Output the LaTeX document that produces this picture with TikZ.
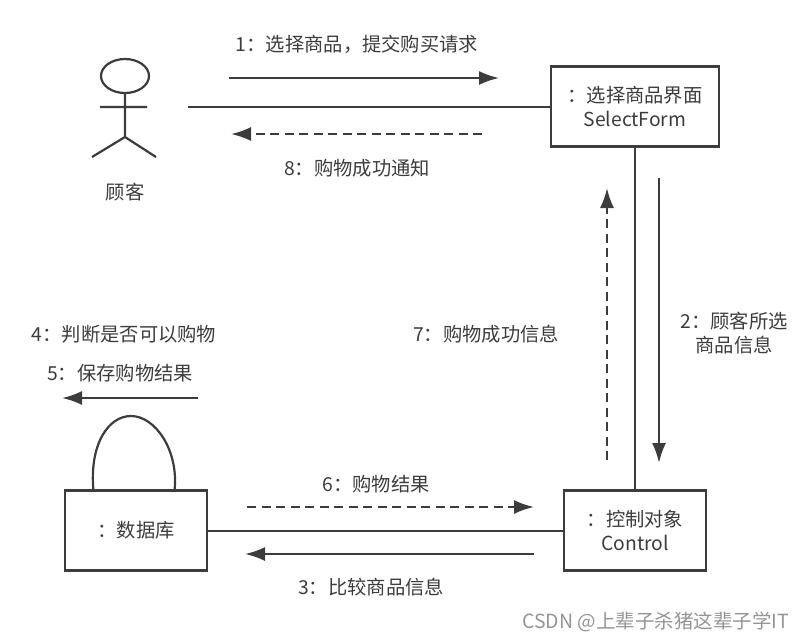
\documentclass[tikz,border=0pt]{standalone}
\usepackage{fontspec}
\setmainfont{Noto Sans CJK SC}[BoldFont={Noto Sans CJK SC}]
\usetikzlibrary{arrows.meta,shapes.geometric}
\definecolor{ink}{HTML}{3C3C3C}
\tikzset{
  px/.style={x=1pt,y=-1pt},
  every node/.style={inner sep=0pt,outer sep=0pt,text=ink,font=\fontsize{19.3}{24}\selectfont},
  obj/.style={draw=ink,line width=2.4pt,align=center,minimum height=80pt},
  lbl/.style={align=center},
  link/.style={draw=ink,line width=2.2pt},
  msg/.style={draw=ink,line width=2.2pt,-{Latex[length=20pt,width=14pt]}},
  ret/.style={msg,dash pattern=on 9pt off 5.5pt},
  wm/.style={text=black!42,font=\fontsize{19.5}{22}\selectfont}
}
\begin{document}
\begin{tikzpicture}[px]
\useasboundingbox (0,0) rectangle (803,641);
% nodes
\node[obj,minimum width=168pt] (form) at (635,106.5) {：选择商品界面\\SelectForm};
\node[obj,minimum width=142pt] (ctrl) at (635,530.5) {：控制对象\\Control};
\node[obj,minimum width=142pt] (db) at (136,530.5) {：数据库};
% actor
\node[draw=ink,line width=2.2pt,ellipse,minimum width=48pt,minimum height=34pt] (head) at (125,76) {};
\coordinate (hip) at (125,137);
\coordinate (armL) at (100,107);
\coordinate (armR) at (147,107);
\coordinate (legL) at (92,157);
\coordinate (legR) at (156,157);
\draw[link] (head.south) -- (hip) (armL) -- (armR) (legL) -- (hip) -- (legR);
\node (actor) at (125,192) {顾客};
% link actor-form
\coordinate (actorEnd) at (188,107);
\draw[link] (actorEnd) -- (form.west |- actorEnd);
% link form-ctrl
\draw[link] (form.south) -- (ctrl.north);
% link db-ctrl
\coordinate (dbc) at (207,531);
\draw[link] (dbc) -- (ctrl.west |- dbc);
% self loop
\coordinate (loopL) at (93.5,491);
\coordinate (loopR) at (174.5,491);
\draw[link] (loopL) .. controls (89,445) and (108,416) .. (131,416) .. controls (155,416) and (179,450) .. (loopR);
% message end points
\coordinate (m1a) at (229,78); \coordinate (m1b) at (499,78);
\coordinate (m8a) at (482,134); \coordinate (m8b) at (231,134);
\coordinate (m2a) at (659,178); \coordinate (m2b) at (659,463);
\coordinate (m7a) at (607,460); \coordinate (m7b) at (607,188);
\coordinate (m6a) at (247,507); \coordinate (m6b) at (534,507);
\coordinate (m3a) at (534,554); \coordinate (m3b) at (245,554);
\coordinate (m5a) at (198,398); \coordinate (m5b) at (62,398);
\draw[msg] (m1a) -- (m1b);
\draw[ret] (m8a) -- (m8b);
\draw[msg] (m2a) -- (m2b);
\draw[ret] (m7a) -- (m7b);
\draw[ret] (m6a) -- (m6b);
\draw[msg] (m3a) -- (m3b);
\draw[msg] (m5a) -- (m5b);
% labels
\node[lbl] (l1) at (357,44) {1：选择商品，提交购买请求};
\node[lbl] (l8) at (357,168) {8：购物成功通知};
\node[lbl] (l2) at (734,333) {2：顾客所选\\商品信息};
\node[lbl] (l7) at (486,334) {7：购物成功信息};
\node[lbl] (l4) at (124,334) {4：判断是否可以购物};
\node[lbl] (l5) at (120,373) {5：保存购物结果};
\node[lbl] (l6) at (376,484) {6：购物结果};
\node[lbl] (l3) at (371,587) {3：比较商品信息};
\node[wm,anchor=east] (mark) at (789,622) {CSDN @上辈子杀猪这辈子学IT};
\end{tikzpicture}
\end{document}
